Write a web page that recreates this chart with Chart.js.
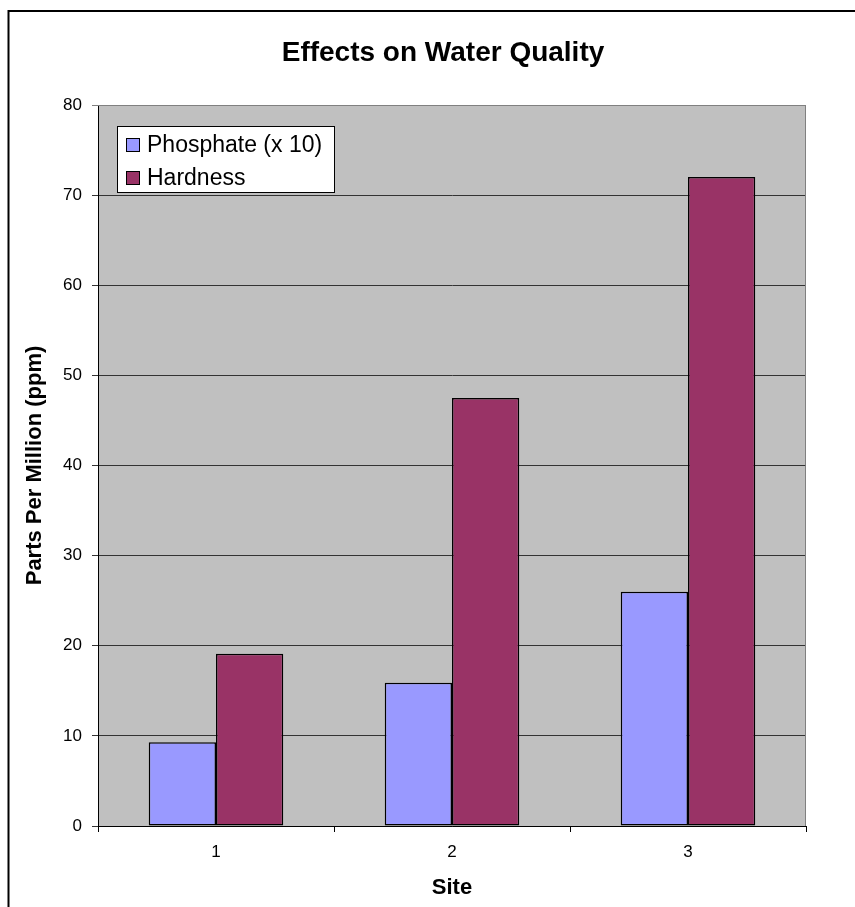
<!DOCTYPE html>
<html>
<head>
<meta charset="utf-8">
<script src="https://cdn.jsdelivr.net/npm/chart.js@4.4.1/dist/chart.umd.min.js"></script>
<style>
  html, body { margin: 0; padding: 0; background: #fff; overflow: hidden; }
  canvas { display: block; }
</style>
</head>
<body>
<canvas id="mycanvas" width="855" height="907"></canvas>
<script>
// chart data
var sites = ["1", "2", "3"];
var phosphate = [9.3, 15.9, 26.0];
var hardness = [19.1, 47.5, 72.0];
var yTicks = [0, 10, 20, 30, 40, 50, 60, 70, 80];
var chartTitle = "Effects on Water Quality";

var FONT = "'Liberation Sans', Arial, sans-serif";
Chart.defaults.font.family = FONT;
Chart.defaults.color = "#000";

// grey plot background, outer frame, title
var plotBg = {
  id: "plotBg",
  beforeDraw: function(chart) {
    var c = chart.ctx, a = chart.chartArea;
    c.save();
    c.fillStyle = "#fff";
    c.fillRect(0, 0, chart.width, chart.height);
    c.fillStyle = "#c0c0c0";
    c.fillRect(a.left, a.top, a.right - a.left, a.bottom - a.top);
    // frame, runs off the right and bottom edges
    c.strokeStyle = "#000";
    c.lineWidth = 2;
    c.beginPath();
    c.moveTo(8.5, chart.height);
    c.lineTo(8.5, 11);
    c.lineTo(chart.width, 11);
    c.stroke();
    // title (centred on the whole frame, not the plot)
    c.fillStyle = "#000";
    c.font = "bold 28px " + FONT;
    c.textAlign = "center";
    c.textBaseline = "middle";
    c.fillText(chartTitle, 443, 53);
    c.restore();
  },
  afterDatasetsDraw: function(chart) {
    var c = chart.ctx, a = chart.chartArea;
    c.save();
    c.strokeStyle = "#808080";
    c.lineWidth = 1;
    c.beginPath();
    c.moveTo(a.left, a.top + 0.5);
    c.lineTo(a.right - 0.5, a.top + 0.5);
    c.lineTo(a.right - 0.5, a.bottom);
    c.stroke();
    c.restore();
  }
};

// legend box inside the plot, top left
var boxLegend = {
  id: "boxLegend",
  afterDraw: function(chart) {
    var c = chart.ctx;
    var x = 117, y = 126, w = 217, h = 66;
    c.save();
    c.fillStyle = "#fff";
    c.fillRect(x, y, w, h);
    c.strokeStyle = "#000";
    c.lineWidth = 1;
    c.strokeRect(x + 0.5, y + 0.5, w, h);
    c.font = "23px " + FONT;
    c.textBaseline = "middle";
    chart.data.datasets.forEach(function(ds, i) {
      var cy = 145 + i * 33;
      c.fillStyle = ds.backgroundColor;
      c.fillRect(126, cy - 7, 14, 14);
      c.strokeRect(126.5, cy - 6.5, 13, 13);
      c.fillStyle = "#000";
      c.fillText(ds.label, 147, cy + 1);
    });
    c.restore();
  }
};

var chartdata = {
  labels: sites,
  datasets: [
    {
      label: "Phosphate (x 10)",
      backgroundColor: "#9999ff",
      borderColor: "#000",
      borderWidth: 1.5,
      borderSkipped: false,
      data: phosphate
    },
    {
      label: "Hardness",
      backgroundColor: "#993366",
      borderColor: "#000",
      borderWidth: 1.5,
      borderSkipped: false,
      data: hardness
    }
  ]
};

var ctx = document.getElementById("mycanvas");

var BarGraph = new Chart(ctx, {
  type: "bar",
  data: chartdata,
  plugins: [plotBg, boxLegend],
  options: {
    responsive: false,
    animation: false,
    layout: { padding: { left: 0, right: 49, top: 105, bottom: 0 } },
    categoryPercentage: 0.57,
    barPercentage: 1.0,
    plugins: {
      legend: { display: false },
      tooltip: { enabled: false },
      title: { display: false }
    },
    scales: {
      x: {
        grid: { offset: true, drawOnChartArea: false, drawTicks: true, tickLength: 6, color: "#000" },
        border: { color: "#000", width: 1 },
        ticks: { font: { size: 17 }, padding: 10 },
        title: { display: true, text: "Site", font: { size: 22, weight: "bold" }, padding: { top: 0, bottom: 6 } },
        afterFit: function(s) { s.height = 81; }
      },
      y: {
        min: 0,
        max: 80,
        afterBuildTicks: function(s) { s.ticks = yTicks.map(function(v) { return { value: v }; }); },
        grid: {
          color: function(c) { return c.tick && c.tick.value === 80 ? "#808080" : "#333"; },
          tickLength: 6
        },
        border: { color: "#000", width: 1 },
        ticks: { font: { size: 17 }, padding: 10 },
        title: { display: true, text: "Parts Per Million (ppm)", font: { size: 22, weight: "bold" }, padding: { top: 22, bottom: 0 } },
        afterFit: function(s) { s.width = 98; }
      }
    }
  }
});
</script>
</body>
</html>
